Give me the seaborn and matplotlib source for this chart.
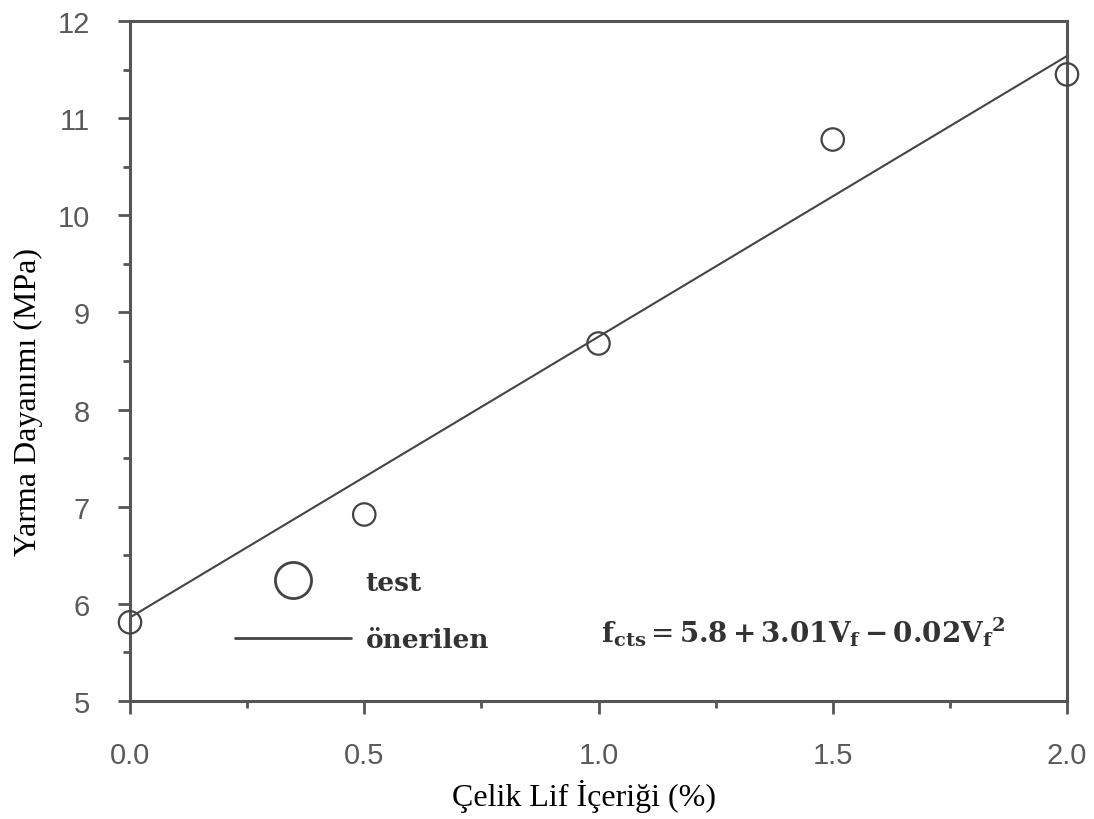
import matplotlib
matplotlib.use("Agg")
import matplotlib.pyplot as plt
from matplotlib.lines import Line2D
from matplotlib.ticker import MultipleLocator, FormatStrFormatter
import seaborn as sns
import pandas as pd

# data
fiber_content = [0.0, 0.5, 1.0, 1.5, 2.0]
test_strength = [5.81, 6.92, 8.68, 10.78, 11.45]
proposed_x = [0.0, 2.0]
proposed_y = [5.86, 11.64]
x_ticks = [0.0, 0.5, 1.0, 1.5, 2.0]
y_ticks = [5, 6, 7, 8, 9, 10, 11, 12]

sns.set_theme(style="white")
plt.rcParams["mathtext.fontset"] = "dejavuserif"

df_test = pd.DataFrame({"x": fiber_content, "y": test_strength})
df_line = pd.DataFrame({"x": proposed_x, "y": proposed_y})

fig = plt.figure(figsize=(10.94, 8.2), dpi=100)
ax = fig.add_axes([130/1094, 1-702/820, (1067-130)/1094, (702-22)/820])

grey = "#555555"
sns.lineplot(data=df_line, x="x", y="y", ax=ax, color="#444444", linewidth=1.5)
sns.scatterplot(data=df_test, x="x", y="y", ax=ax, marker="o", s=260,
                facecolor="none", edgecolor="#444444", linewidth=1.6,
                clip_on=False, zorder=5)

ax.set_xlim(0, 2.0)
ax.set_ylim(5, 12)
ax.set_xticks(x_ticks)
ax.set_yticks(y_ticks)
ax.xaxis.set_major_formatter(FormatStrFormatter("%.1f"))
ax.xaxis.set_minor_locator(MultipleLocator(0.25))
ax.yaxis.set_minor_locator(MultipleLocator(0.5))
ax.tick_params(which="major", direction="out", length=9, width=2, color=grey,
               labelsize=21, labelcolor="#5a5a5a", pad=20, bottom=True, left=True)
ax.tick_params(which="minor", direction="out", length=5, width=2, color=grey,
               bottom=True, left=True)
for lab in ax.get_xticklabels() + ax.get_yticklabels():
    lab.set_family("Liberation Sans")
for sp in ax.spines.values():
    sp.set_color(grey)
    sp.set_linewidth(2.2)
    sp.set_visible(True)

ax.set_xlabel("Çelik Lif İçeriği (%)", family="Liberation Serif", fontsize=23,
              color="black")
ax.set_ylabel("Yarma Dayanımı (MPa)", family="Liberation Serif", fontsize=23,
              color="black")
ax.xaxis.set_label_coords((584-130)/937, -(797-702)/680)
ax.yaxis.set_label_coords((28-130)/937, (702-402)/680)
ax.xaxis.label.set_va("center")
ax.yaxis.label.set_va("center")

handles = [
    Line2D([], [], linestyle="none", marker="o", markersize=26,
           markerfacecolor="none", markeredgecolor="#444444", markeredgewidth=2),
    Line2D([], [], color="#444444", linewidth=2),
]
leg = ax.legend(handles, ["test", "önerilen"], loc="center left",
                bbox_to_anchor=((235-130)/937, (702-612)/680),
                frameon=False, borderpad=0, borderaxespad=0,
                handlelength=4.4, handletextpad=0.55, labelspacing=1.25,
                prop={"family": "DejaVu Serif", "weight": "bold", "size": 19})
for t in leg.get_texts():
    t.set_color("#333333")

ax.text((803-130)/937, (702-632)/680,
        r"$\mathbf{f_{cts}} = \mathbf{5.8 + 3.01V_{f} - 0.02V_{f}{}^{2}}$",
        transform=ax.transAxes, ha="center", va="center", fontsize=20,
        color="#333333")

fig.savefig("out.png", dpi=100)
